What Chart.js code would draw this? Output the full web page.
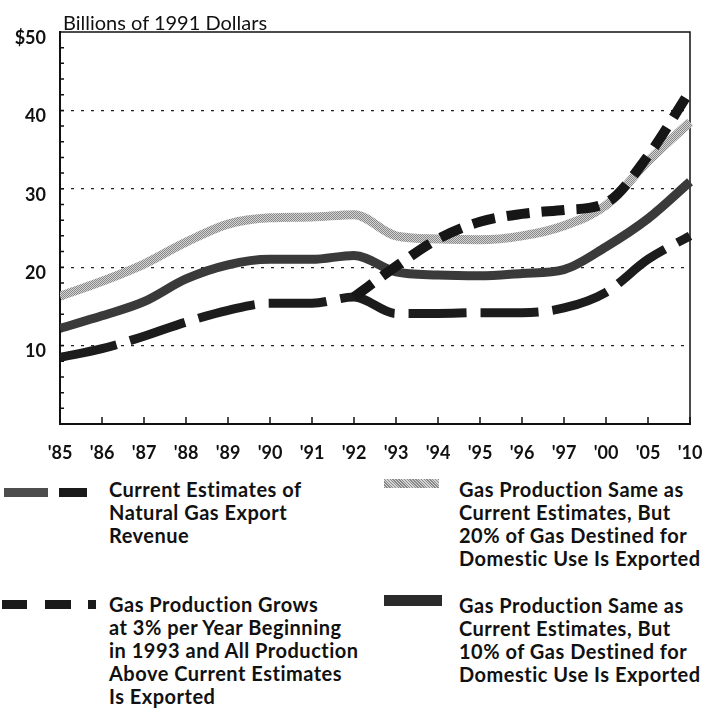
<!DOCTYPE html>
<html>
<head>
<meta charset="utf-8">
<script src="https://cdn.jsdelivr.net/npm/chart.js"></script>
<style>
    body { margin: 0; background: #fff; }
    #page { position: relative; width: 717px; height: 710px; overflow: hidden; font-family: Lato, sans-serif; color: #111; }
    #chartBox { position: absolute; left: 0; top: 0; width: 717px; height: 462px; }
    .title { position: absolute; left: 63px; top: 11px; font-size: 20px; line-height: 23px; white-space: nowrap; }
    .leg-text { position: absolute; font-weight: 700; font-size: 20px; line-height: 23px; letter-spacing: 0.5px; white-space: nowrap; }
    .sw { position: absolute; }
</style>
</head>
<body>
<div id="page">
    <div id="chartBox"><canvas id="gasChart" width="717" height="462"></canvas></div>
    <div class="title">Billions of 1991 Dollars</div>

    <!-- legend -->
    <div class="sw" style="left:4px; top:488px; width:44px; height:9px; background:#4d4d4d;"></div>
    <div class="sw" style="left:59px; top:488px; width:28px; height:9px; background:#1a1a1a;"></div>
    <div class="leg-text" style="left:109px; top:478px;">Current Estimates of<br>Natural Gas Export<br>Revenue</div>

    <div class="sw" style="left:2px; top:600px; width:25px; height:9px; background:#1a1a1a;"></div>
    <div class="sw" style="left:45px; top:600px; width:26px; height:9px; background:#1a1a1a;"></div>
    <div class="sw" style="left:88px; top:600px; width:8px; height:9px; background:#1a1a1a;"></div>
    <div class="leg-text" style="left:109px; top:593px;">Gas Production Grows<br>at 3% per Year Beginning<br>in 1993 and All Production<br>Above Current Estimates<br>Is Exported</div>

    <div class="sw" style="left:384px; top:479px; width:55px; height:9px; background:repeating-linear-gradient(45deg, #8a8a8a 0 1px, #d6d6d6 1px 2px);"></div>
    <div class="leg-text" style="left:459px; top:478px;">Gas Production Same as<br>Current Estimates, But<br>20% of Gas Destined for<br>Domestic Use Is Exported</div>

    <div class="sw" style="left:384px; top:595px; width:58px; height:11px; background:#2a2a2a;"></div>
    <div class="leg-text" style="left:459px; top:594px;">Gas Production Same as<br>Current Estimates, But<br>10% of Gas Destined for<br>Domestic Use Is Exported</div>
</div>

<script>
/* ============================================
   DATA (billions of 1991 dollars)
   ============================================ */
const years = ["'85", "'86", "'87", "'88", "'89", "'90", "'91", "'92", "'93", "'94", "'95", "'96", "'97", "'00", "'05", "'10"];

// Current estimates of natural gas export revenue
const currentEstimates = [8.5, 9.6, 11.2, 13.0, 14.5, 15.4, 15.4, 16.2, 14.1, 14.1, 14.2, 14.2, 14.8, 16.8, 21.0, 24.0];

// Production grows 3% per year from 1993 (branches off in '92)
const growsThreePct = [null, null, null, null, null, null, null, 16.2, 20.1, 23.6, 25.8, 26.8, 27.3, 28.2, 34.2, 42.5];

// Same production, 20% of domestic gas exported
const domestic20 = [16.3, 18.2, 20.4, 23.2, 25.5, 26.3, 26.4, 26.7, 24.0, 23.6, 23.5, 24.0, 25.3, 27.9, 33.5, 38.5];

// Same production, 10% of domestic gas exported
const domestic10 = [12.2, 13.8, 15.6, 18.5, 20.3, 21.0, 21.0, 21.5, 19.4, 19.0, 18.9, 19.2, 19.7, 22.6, 26.2, 30.9];

const yMax = 50;
const yLabelValues = [10, 20, 30, 40, 50];

/* ============================================
   HELPERS
   ============================================ */

// Dithered gray used by the 20% line
function hatchPattern() {
    const c = document.createElement('canvas');
    c.width = 4;
    c.height = 4;
    const g = c.getContext('2d');
    g.fillStyle = '#d4d4d4';
    g.fillRect(0, 0, 4, 4);
    g.fillStyle = '#888';
    for (let i = 0; i < 4; i++) {
        g.fillRect(i, i, 1, 1);
        g.fillRect((i + 2) % 4, i, 1, 1);
    }
    return g.createPattern(c, 'repeat');
}

// Top/right frame plus the small inner ticks on both axes
const frameTicks = {
    id: 'frameTicks',
    beforeDatasetsDraw(chart) {
        const { ctx, chartArea: a, scales } = chart;
        ctx.save();
        ctx.strokeStyle = '#111';
        ctx.lineWidth = 1.5;
        ctx.beginPath();
        ctx.moveTo(a.left, a.top);
        ctx.lineTo(a.right, a.top);
        ctx.lineTo(a.right, a.bottom);
        ctx.stroke();

        ctx.beginPath();
        for (let v = 2; v < yMax; v += 2) {
            const y = scales.y.getPixelForValue(v);
            ctx.moveTo(a.left, y);
            ctx.lineTo(a.left + 4, y);
        }
        years.forEach((_, i) => {
            const x = scales.x.getPixelForValue(i);
            ctx.moveTo(x, a.bottom);
            ctx.lineTo(x, a.bottom - 7);
        });
        ctx.stroke();
        ctx.restore();
    }
};

/* ============================================
   CHART
   ============================================ */
const tickFont = { family: 'Lato', size: 18, weight: 'bold' };

new Chart(document.getElementById('gasChart'), {
    type: 'line',
    data: {
        labels: years,
        datasets: [
            {
                label: 'Current Estimates of Natural Gas Export Revenue',
                data: currentEstimates,
                borderColor: '#1c1c1c',
                borderWidth: 9,
                borderDash: [58, 14],
                order: 2
            },
            {
                label: 'Gas Production Grows at 3% per Year Beginning in 1993',
                data: growsThreePct,
                borderColor: '#161616',
                borderWidth: 10,
                borderDash: [23, 12],
                order: 1
            },
            {
                label: 'Gas Production Same as Current Estimates, But 20% of Gas Destined for Domestic Use Is Exported',
                data: domestic20,
                borderColor: hatchPattern(),
                borderWidth: 9,
                order: 4
            },
            {
                label: 'Gas Production Same as Current Estimates, But 10% of Gas Destined for Domestic Use Is Exported',
                data: domestic10,
                borderColor: '#3a3a3a',
                borderWidth: 9,
                order: 3
            }
        ]
    },
    options: {
        responsive: false,
        animation: false,
        layout: { padding: { top: 32, right: 27, left: 0, bottom: 0 } },
        elements: {
            point: { radius: 0 },
            line: { cubicInterpolationMode: 'monotone', borderCapStyle: 'butt', fill: false }
        },
        datasets: { line: { clip: { left: 0, right: 10, top: 10, bottom: 0 } } },
        plugins: {
            legend: { display: false },
            tooltip: { enabled: false }
        },
        scales: {
            x: {
                type: 'category',
                offset: false,
                grid: { display: false },
                border: { color: '#111', width: 2 },
                ticks: { color: '#111', font: tickFont, padding: 10, maxRotation: 0, autoSkip: false },
                afterFit: s => { s.height = 38; }
            },
            y: {
                min: 0,
                max: yMax,
                grid: {
                    drawTicks: false,
                    lineWidth: 1.3,
                    color: c => (c.tick && c.tick.value > 0 && c.tick.value < yMax && c.tick.value % 10 === 0) ? '#222' : 'rgba(0,0,0,0)'
                },
                border: { color: '#111', width: 2, dash: [3, 7] },
                ticks: {
                    stepSize: 2,
                    autoSkip: false,
                    color: '#111',
                    font: tickFont,
                    padding: 14,
                    labelOffset: 6,
                    callback: v => yLabelValues.includes(v) ? (v === yMax ? '$' + v : String(v)) : ''
                },
                afterFit: s => { s.width = 60; }
            }
        }
    },
    plugins: [frameTicks]
});
</script>
</body>
</html>
